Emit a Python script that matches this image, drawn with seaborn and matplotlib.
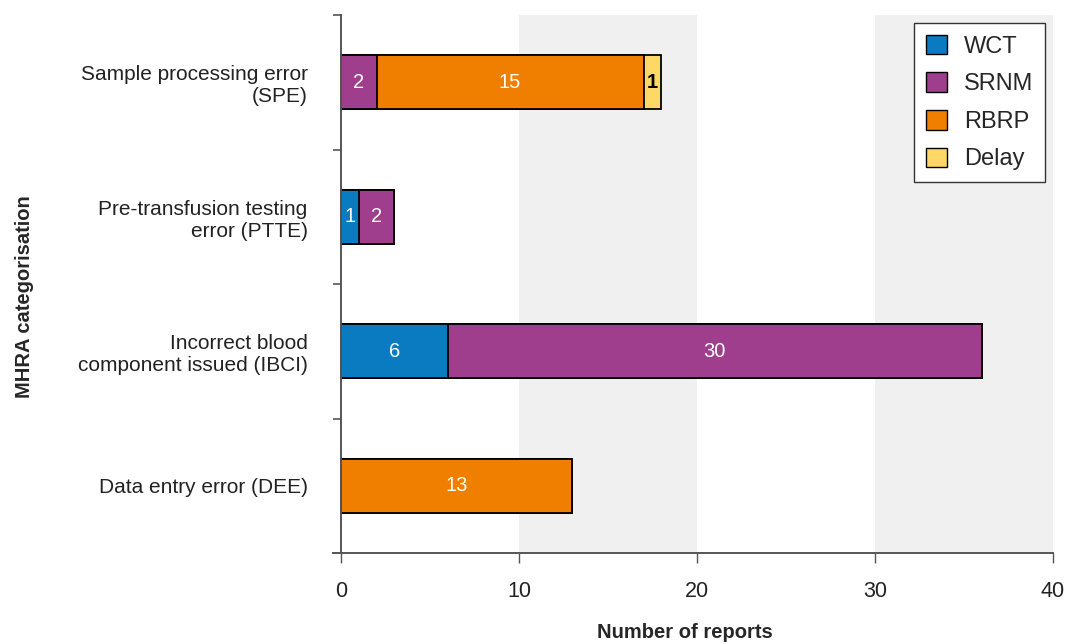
import matplotlib
matplotlib.use("Agg")
import matplotlib.pyplot as plt
import matplotlib.patches as mpatches
import numpy as np
import pandas as pd
import seaborn as sns

# data
categories = ["Sample processing error\n(SPE)",
              "Pre-transfusion testing\nerror (PTTE)",
              "Incorrect blood\ncomponent issued (IBCI)",
              "Data entry error (DEE)"]
series = ["WCT", "SRNM", "RBRP", "Delay"]
wct = [0, 1, 6, 0]
srnm = [2, 2, 30, 0]
rbrp = [15, 0, 0, 13]
delay = [1, 0, 0, 0]
colors = ["#0a7bc0", "#9e3e8c", "#f07f00", "#fed866"]
label_colors = ["white", "white", "white", "black"]

df = pd.DataFrame({"cat": categories, "WCT": wct, "SRNM": srnm,
                   "RBRP": rbrp, "Delay": delay})
cum = df[series].cumsum(axis=1)

sns.set_style("white")
plt.rcParams["font.family"] = ["Liberation Sans", "DejaVu Sans"]

fig = plt.figure(figsize=(10.72, 6.44), dpi=100)
ax = fig.add_axes([333 / 1072, 1 - 553 / 644, 720 / 1072, 538 / 644])

# grey bands behind the bars
ax.axvspan(10, 20, color="#f0f0f0", zorder=0, lw=0)
ax.axvspan(30, 40, color="#f0f0f0", zorder=0, lw=0)

# stacked bars: draw cumulative totals from the outermost inwards
for s, c in reversed(list(zip(series, colors))):
    sns.barplot(x=cum[s], y=df["cat"], orient="h", color=c, width=0.4,
                edgecolor="black", linewidth=1.3, saturation=1, ax=ax, zorder=2)

# segment labels
for i in range(len(df)):
    left = 0
    for s, tc in zip(series, label_colors):
        v = df.loc[i, s]
        if v > 0:
            ax.text(left + v / 2, i, str(v), ha="center", va="center",
                    color=tc, fontsize=14.5,
                    fontweight="bold" if s == "Delay" else "normal", zorder=3)
        left += v

ax.set_xlim(-0.45, 40)
ax.set_ylim(3.5, -0.5)
ax.set_xticks([0, 10, 20, 30, 40])
ax.set_yticks(range(len(categories)))
ax.set_yticklabels(categories)
ax.set_yticks(np.arange(-0.5, 3.6, 1), minor=True)
ax.tick_params(axis="y", which="major", left=False, length=0, pad=24,
               labelsize=15, labelcolor="#222222")
ax.tick_params(axis="y", which="minor", left=True, length=6, width=1.2,
               color="#555555")
ax.tick_params(axis="x", bottom=True, length=7, width=1, color="#555555",
               labelsize=15.5, pad=13, labelcolor="#222222")

ax.spines["left"].set_position(("data", 0))
ax.spines["top"].set_visible(False)
ax.spines["right"].set_visible(False)
for sp in ["left", "bottom"]:
    ax.spines[sp].set_color("#555555")
    ax.spines[sp].set_linewidth(1.4)

ax.set_xlabel("Number of reports", fontsize=14.5, fontweight="bold")
ax.xaxis.set_label_coords((685 - 333) / 720, (553 - 623) / 538)
ax.set_ylabel("")
fig.text(25 / 1072, 1 - 297 / 644, "MHRA categorisation", rotation=90,
         ha="center", va="center", fontsize=14.5, fontweight="bold")

handles = [mpatches.Patch(facecolor=c, edgecolor="black", label=s)
           for s, c in zip(series, colors)]
leg = ax.legend(handles=handles, loc="upper right",
                bbox_to_anchor=((1045 - 333) / 720, (553 - 23) / 538),
                borderaxespad=0, fontsize=17, handlelength=0.9, handleheight=0.9,
                handletextpad=0.7, labelspacing=0.62, borderpad=0.5,
                fancybox=False, framealpha=1)
leg.get_frame().set_edgecolor("#333333")
leg.get_frame().set_linewidth(1)

fig.savefig("out.png", dpi=100)
